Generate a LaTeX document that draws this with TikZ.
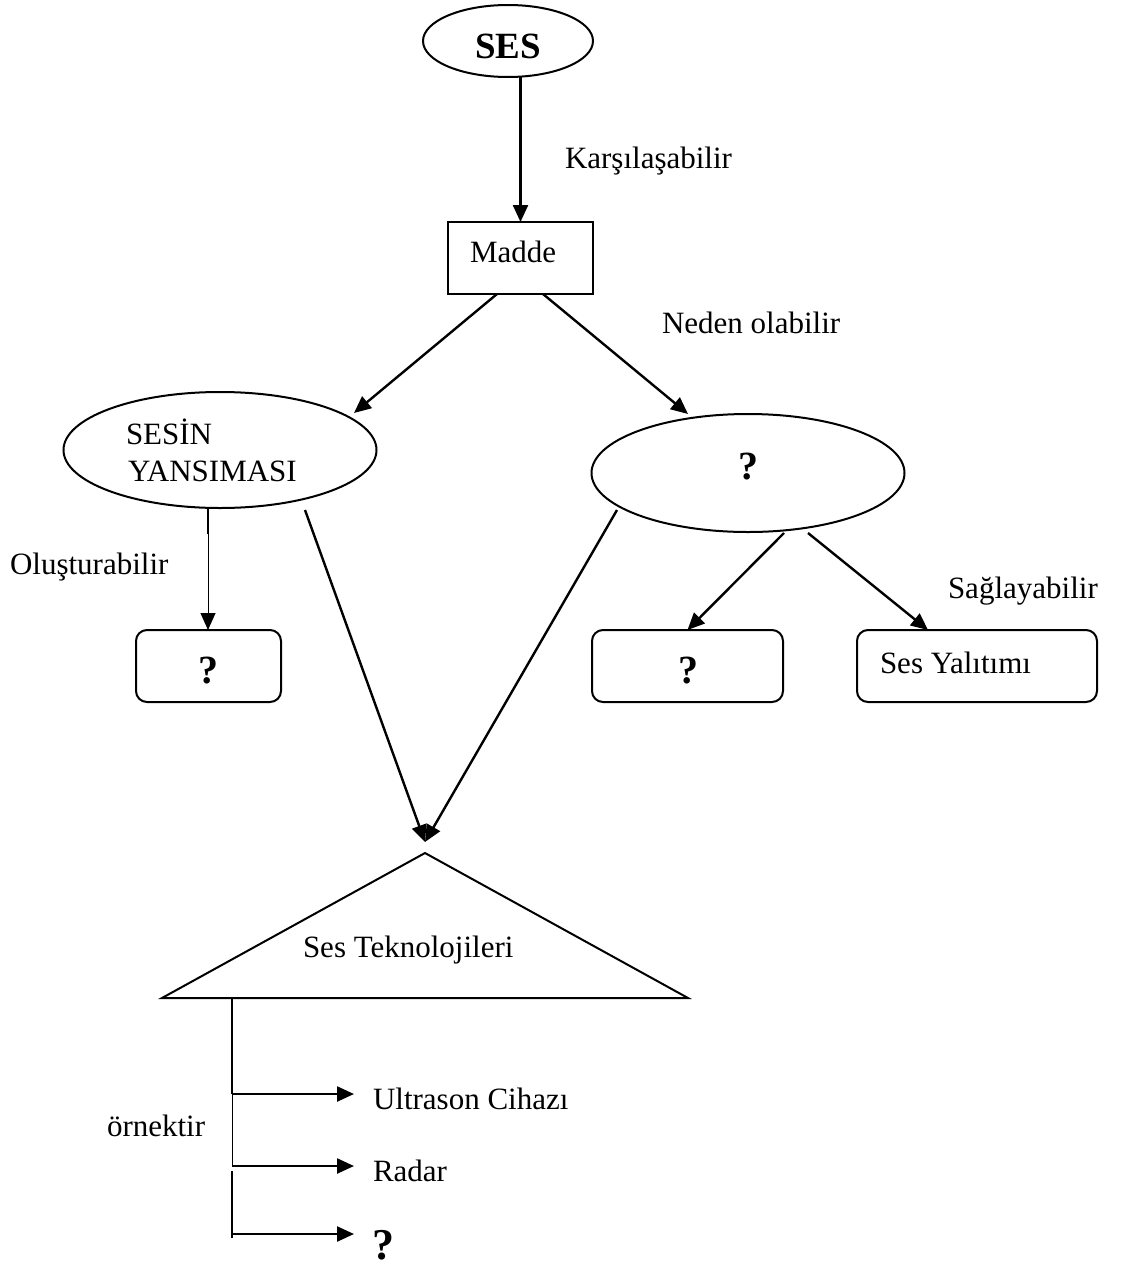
\documentclass[tikz,border=0pt]{standalone}
\usepackage{fontspec}
\setmainfont{Liberation Serif}
\usetikzlibrary{arrows.meta,shapes.geometric}

\begin{document}
\begin{tikzpicture}[x=1pt,y=-1pt,
  every node/.style={inner sep=0pt, outer sep=0pt},
  txt/.style={font=\fontsize{31}{37}\selectfont, anchor=base west},
  qmark/.style={font=\fontsize{40}{46}\selectfont\bfseries, anchor=base},
  frame/.style={draw, line width=2pt},
  oval/.style={frame, ellipse},
  rbox/.style={frame, rounded corners=11pt},
  link/.style={line width=2.4pt, -{Triangle[length=17pt,width=15pt]}},
  thinlink/.style={line width=1pt, -{Triangle[length=17pt,width=15pt]}},
  branch/.style={line width=2.4pt},
  thinbranch/.style={line width=1pt}]
\useasboundingbox (0,0) rectangle (1131,1269);

% top concept and first box
\node[oval, minimum width=170pt, minimum height=72pt] (ses) at (508,41) {};
\node[font=\fontsize{37}{43}\selectfont\bfseries, anchor=base] (sestxt) at (508,58) {SES};
\node[frame, minimum width=145pt, minimum height=72pt] (madde) at (520.5,258) {};
\node[txt] (maddetxt) at (470,262) {Madde};
\draw[link] (ses.south -| madde.north) -- (madde.north);
\node[txt] (l1) at (565,168) {Karşılaşabilir};

% second level ellipses
\node[oval, minimum width=313pt, minimum height=116pt] (yans) at (220,450) {};
\node[txt] (yans1) at (126,444) {SESİN};
\node[txt] (yans2) at (128,481) {YANSIMASI};
\node[oval, minimum width=313pt, minimum height=118pt] (neden) at (748,473) {};
\node[qmark] (nedenq) at (748,479) {?};

\coordinate (mL) at (497,294);
\coordinate (mR) at (543,294);
\coordinate (yT) at (354,413);
\coordinate (nT) at (688,414);
\draw[link] (mL) -- (yT);
\draw[link] (mR) -- (nT);
\node[txt] (l2) at (662,333) {Neden olabilir};

% boxes under the ellipses
\node[rbox, minimum width=145pt, minimum height=72pt] (boxA) at (208.5,666) {};
\node[qmark] (boxAq) at (208,683) {?};
\node[rbox, minimum width=191pt, minimum height=72pt] (boxB) at (687.5,666) {};
\node[qmark] (boxBq) at (688,683) {?};
\node[rbox, minimum width=240pt, minimum height=72pt] (boxC) at (977,666) {};
\node[txt] (boxCt) at (880,673) {Ses Yalıtımı};

\coordinate (yB) at (208,509);
\coordinate (yB2) at (208,534);
\draw[branch] (yB) -- (yB2);
\draw[thinlink] (yB2) -- (boxA.north -| yB);
\node[txt] (l3) at (10,574) {Oluşturabilir};

\coordinate (nB1) at (784,533);
\coordinate (nB2) at (808,533);
\coordinate (cT) at (928,630);
\draw[link] (nB1) -- (boxB.north);
\draw[link] (nB2) -- (cT);
\node[txt] (l4) at (948,598) {Sağlayabilir};

% technology triangle
\coordinate (apex) at (425,853);
\coordinate (baseL) at (162,998);
\coordinate (baseR) at (688,998);
\draw[line width=2pt, line join=miter] (apex) -- (baseR) -- (baseL) -- cycle;
\node[txt] (tekno) at (303,957) {Ses Teknolojileri};

\coordinate (yS) at (305,510);
\coordinate (nS) at (617,510);
\coordinate (tip) at (425,842);
\draw[link] (yS) -- (tip);
\draw[link] (nS) -- (tip);

% examples
\coordinate (v0) at (232,998);
\coordinate (v1) at (232,1094);
\coordinate (v2) at (232,1166);
\coordinate (v2b) at (232,1171);
\coordinate (v3) at (232,1238);
\coordinate (v3a) at (232,1234);
\draw[branch] (v0) -- (v1);
\draw[thinbranch] (v1) -- (v2);
\draw[branch] (v2b) -- (v3);

\node[txt] (ex1) at (373,1109) {Ultrason Cihazı};
\node[txt] (ex2) at (373,1181) {Radar};
\node[font=\fontsize{44}{50}\selectfont\bfseries, anchor=base west] (ex3) at (372,1259) {?};
\coordinate (a1) at (354,1094);
\coordinate (a2) at (354,1166);
\coordinate (a3) at (354,1234);
\draw[link] (v1) -- (a1);
\draw[link] (v2) -- (a2);
\draw[link] (v3a) -- (a3);
\node[txt] (l5) at (107,1136) {örnektir};
\end{tikzpicture}
\end{document}
